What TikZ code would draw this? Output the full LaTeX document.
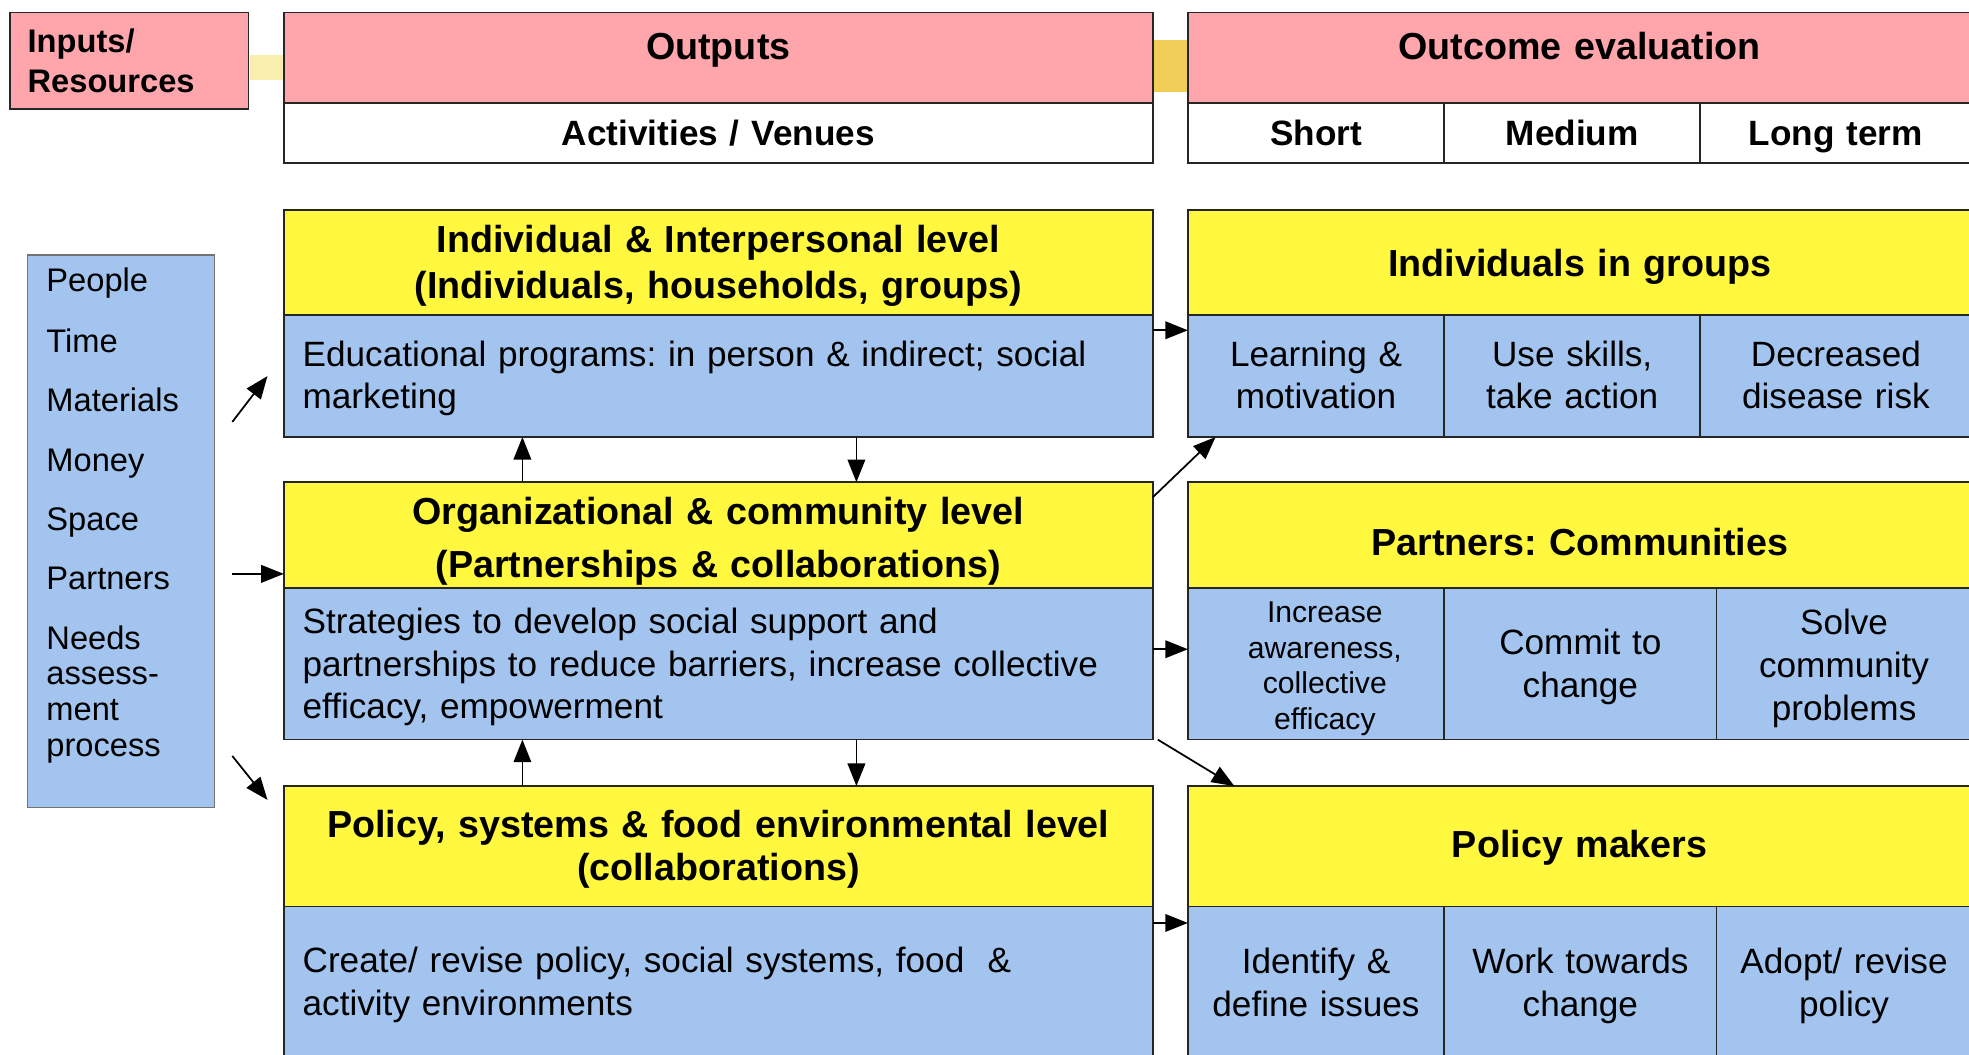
\documentclass[tikz,border=0pt]{standalone}
\usepackage{fontspec}
\setmainfont{Liberation Sans}
\usetikzlibrary{arrows.meta}
\frenchspacing

\definecolor{hdrpink}{RGB}{255,166,173}
\definecolor{lvlyellow}{RGB}{255,248,62}
\definecolor{actblue}{RGB}{162,196,238}
\definecolor{blobpale}{RGB}{246,226,120}
\definecolor{blobgold}{RGB}{238,198,58}

\tikzset{
  every node/.style={inner sep=0pt, outer sep=0pt},
  frame/.style={draw=black!85, line width=1.3pt},
  dims/.style n args={3}{text width=#1, text height=#2, text depth=#3},
  pinkhdr/.style={frame, fill=hdrpink, align=center, font=\fontsize{30}{36}\selectfont\bfseries},
  subhdr/.style={frame, fill=white, align=center, font=\fontsize{28}{34}\selectfont\bfseries},
  level/.style={frame, fill=lvlyellow, align=center, font=\fontsize{30}{37}\selectfont\bfseries},
  activity/.style={frame, fill=actblue, align=left, inner xsep=15pt, font=\fontsize{28}{34}\selectfont},
  effect/.style={frame, fill=actblue, align=center, font=\fontsize{28}{34}\selectfont},
  resitem/.style={anchor=west, font=\fontsize{26}{28.5}\selectfont},
  resword/.style={resitem, text height=20pt, text depth=5pt},
  arr/.style={-{Triangle[length=18pt,width=14pt]}, line width=1.4pt},
}

\begin{document}
\begin{tikzpicture}[x=1pt,y=-1pt]
  \useasboundingbox (0,0) rectangle (1568,840);

  % faded arrow pieces behind the header row
  \fill[blobpale, opacity=0.6] (199,44) rectangle (226,64);
  \fill[blobgold, opacity=0.85] (918,32) rectangle (946,73);

  % header row
  \node[frame, fill=hdrpink, minimum width=190pt, minimum height=77pt, inner xsep=14pt, text width=162pt, align=left,
        font=\fontsize{26}{32}\selectfont\bfseries] (inp) at (103,48.5) {Inputs/\\Resources};
  \node[pinkhdr, dims={692pt}{37pt}{35pt}] (out) at (572,46) {Outputs};
  \node[subhdr, dims={692pt}{34pt}{14pt}] (act) at (572,106) {Activities / Venues};
  \node[pinkhdr, dims={624pt}{37pt}{35pt}] (oev) at (1258,46) {Outcome evaluation};
  \node[subhdr, dims={204pt}{34pt}{14pt}] (tshort) at (1048,106) {Short};
  \node[subhdr, dims={204pt}{34pt}{14pt}] (tmed) at (1252,106) {Medium};
  \node[subhdr, dims={216pt}{34pt}{14pt}] (tlong) at (1462,106) {Long term};

  % resources
  \node[draw=black!55, line width=1pt, fill=actblue, minimum width=149pt, minimum height=440pt] (res) at (96.5,423) {};
  \node[resword] (r1) at (37,225) {People};
  \node[resword] (r2) at (37,273) {Time};
  \node[resword] (r3) at (37,320) {Materials};
  \node[resword] (r4) at (37,368) {Money};
  \node[resword] (r5) at (37,415) {Space};
  \node[resword] (r6) at (37,462) {Partners};
  \node[resitem, align=left] (r7) at (37,553) {Needs\\assess-\\ment\\process};

  % levels of activity
  \node[level, dims={692pt}{34pt}{50pt}] (ind1) at (572,209) {Individual \& Interpersonal level\\(Individuals, households, groups)};
  \node[activity, dims={662pt}{40.5pt}{56.5pt}] (ind2) at (572,299.5) {Educational programs: in person \& indirect; social\\marketing};
  \node[level, dims={692pt}{34pt}{50pt}, font=\fontsize{30}{42}\selectfont\bfseries] (org1) at (572,426) {Organizational \& community level\\(Partnerships \& collaborations)};
  \node[activity, dims={662pt}{36.5pt}{84.5pt}] (org2) at (572,528.5) {Strategies to develop social support and\\partnerships to reduce barriers, increase collective\\efficacy, empowerment};
  \node[level, dims={692pt}{41pt}{55pt}, font=\fontsize{30}{34}\selectfont\bfseries] (pol1) at (572,674) {Policy, systems \& food environmental level\\(collaborations)};
  \node[activity, dims={662pt}{52.5pt}{70.5pt}] (pol2) at (572,783.5) {Create/ revise policy, social systems, food~ \&\\activity environments};

  % outcomes
  \node[level, dims={624pt}{53pt}{31pt}] (grp) at (1258,209) {Individuals in groups};
  \node[effect, dims={204pt}{40.5pt}{56.5pt}] (c11) at (1048,299.5) {Learning \&\\motivation};
  \node[effect, dims={204pt}{40.5pt}{56.5pt}] (c12) at (1252,299.5) {Use skills,\\take action};
  \node[effect, dims={216pt}{40.5pt}{56.5pt}] (c13) at (1462,299.5) {Decreased\\disease risk};

  \node[level, dims={624pt}{58pt}{26pt}] (com) at (1258,426) {Partners: Communities};
  \node[effect, dims={204pt}{27.5pt}{93.5pt}, font=\fontsize{24}{28.5}\selectfont] (c21) at (1048,528.5) {\hspace*{14pt}Increase\\\hspace*{14pt}awareness,\\\hspace*{14pt}collective\\\hspace*{14pt}efficacy};
  \node[effect, dims={217pt}{53.5pt}{67.5pt}] (c22) at (1258.5,528.5) {Commit to\\change};
  \node[effect, dims={203pt}{37.5pt}{83.5pt}] (c23) at (1468.5,528.5) {Solve\\community\\problems};

  \node[level, dims={624pt}{57pt}{39pt}] (pmk) at (1258,674) {Policy makers};
  \node[effect, dims={204pt}{53.5pt}{69.5pt}] (c31) at (1048,783.5) {Identify \&\\define issues};
  \node[effect, dims={217pt}{53.5pt}{69.5pt}] (c32) at (1258.5,783.5) {Work towards\\change};
  \node[effect, dims={203pt}{53.5pt}{69.5pt}] (c33) at (1468.5,783.5) {Adopt/ revise\\policy};

  % resources feed the levels
  \draw[arr] ([xshift=14pt,yshift=87pt]res.east) -- ([xshift=-13pt]ind2.west);
  \draw[arr] ([xshift=14pt,yshift=-34pt]res.east) -- ([yshift=-31pt]org1.west);
  \draw[arr] ([xshift=14pt,yshift=-179pt]res.east) -- ([xshift=-13pt,yshift=-11pt]pol1.north west);

  % between levels
  \draw[arr] ([xshift=456pt]ind2.south west) -- ([xshift=456pt]org1.north west);
  \draw[arr] ([xshift=190pt]org1.north west) -- ([xshift=190pt]ind2.south west);
  \draw[arr] ([xshift=456pt]org2.south west) -- ([xshift=456pt]pol1.north west);
  \draw[arr] ([xshift=190pt]pol1.north west) -- ([xshift=190pt]org2.south west);

  % levels to outcomes
  \draw[arr] ([yshift=-12pt]ind2.north east) -- ([yshift=-12pt]c11.north west);
  \draw[arr] ([yshift=-49pt]org2.north east) -- ([yshift=-49pt]c21.north west);
  \draw[arr] ([yshift=-13pt]pol2.north east) -- ([yshift=-13pt]c31.north west);
  \draw[arr] ([yshift=-12pt]org1.north east) -- ([xshift=22pt]c11.south west);
  \draw[arr] ([xshift=4pt]org2.south east) -- ([xshift=37pt]pmk.north west);
\end{tikzpicture}
\end{document}
